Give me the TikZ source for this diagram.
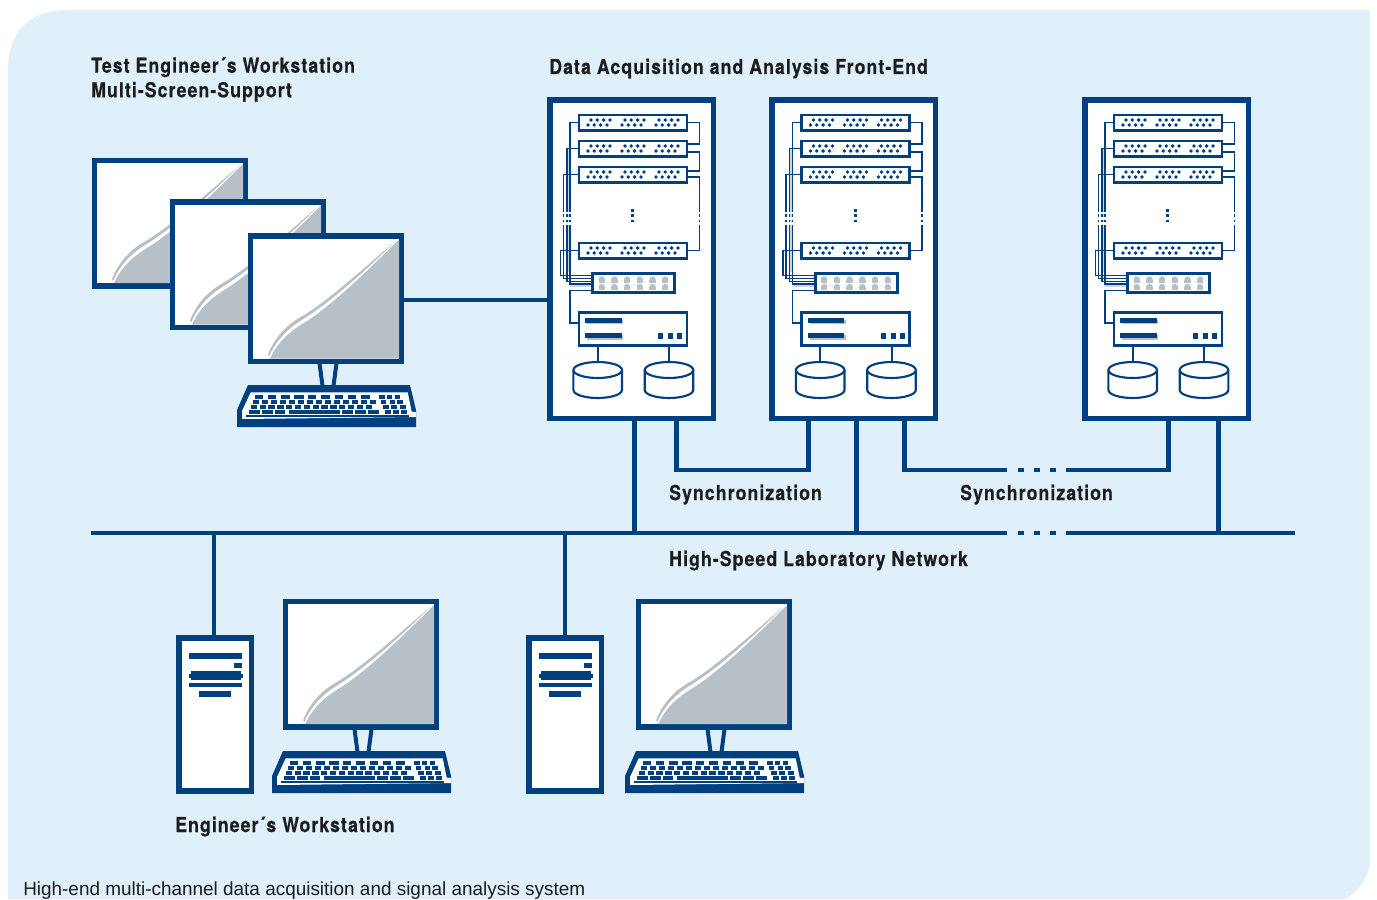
\documentclass[tikz,border=0pt]{standalone}
\usepackage{fontspec}
\usetikzlibrary{calc}
\setmainfont{Liberation Sans}
\newfontfamily\labelfont[FakeStretch=0.86,LetterSpace=5.3,FakeBold=0.4]{TeX Gyre Heros Bold}
\definecolor{bgblue}{HTML}{DFF0FB}
\definecolor{navy}{HTML}{00407F}
\definecolor{screengrey}{HTML}{B7C0C6}
\definecolor{txt}{HTML}{1C1C1C}
\tikzset{
  x=0.75pt,y=-0.75pt,
  link/.style={draw=navy,line width=3.4pt},
  thin cable/.style={draw=navy,line width=1.05pt},
  frame/.style={draw=navy,fill=white,line width=4pt,rectangle,inner sep=0pt,outer sep=0pt},
  rackbox/.style={frame,minimum width=163.5*0.75pt,minimum height=318.5*0.75pt},
  screenbox/.style={frame,minimum width=151*0.75pt,minimum height=125.5*0.75pt},
  towerbox/.style={frame,minimum width=72.5*0.75pt,minimum height=153*0.75pt},
  cardbox/.style={draw=navy,fill=white,line width=2pt,rectangle,inner sep=0pt,outer sep=0pt,minimum width=108*0.75pt,minimum height=15.5*0.75pt},
  switchbox/.style={draw=navy,fill=white,line width=2pt,rectangle,inner sep=0pt,outer sep=0pt,minimum width=82*0.75pt,minimum height=19*0.75pt},
  hostbox/.style={draw=navy,fill=white,line width=1.8pt,rectangle,inner sep=0pt,outer sep=0pt,minimum width=108*0.75pt,minimum height=33*0.75pt},
  disc/.style={draw=navy,fill=white,line width=1.6pt},
  lbl/.style={text=txt,font=\labelfont\fontsize{15.4}{18.4}\selectfont,inner sep=0pt,anchor=base west},
}
% keyboard: origin at its top left corner
\newcommand{\kbdraw}[2]{%
\begin{scope}[shift={(#1,#2)}]
  \fill[navy] (11,0) -- (173,0) -- (179,25) -- (179,42) -- (0,42) -- (0,25) -- cycle;
  \fill[white] (13.7,7.3) -- (170.7,7.3) -- (174.7,26.7) -- (179,27) -- (179,32) -- (5,34) -- (5,26) -- cycle;
  \foreach \a/\b in {75/100,115/140,155/180,193/223,235/260,275/300,315/340,355/380,395/420,447/465,472/488,495/512}
    \fill[navy] ({(\a-22)/3},10.3) rectangle ({(\b-22)/3},13.5);
  \foreach \i in {0,...,13}
    \fill[navy] ({(70+27*\i-22)/3},15) rectangle ({(88+27*\i-22)/3},19.3);
  \foreach \a/\b in {455/470,480/495,503/520}
    \fill[navy] ({(\a-22)/3},15) rectangle ({(\b-22)/3},19.3);
  \foreach \i in {0,...,13}
    \fill[navy] ({(63+26.5*\i-22)/3},20) rectangle ({(82+26.5*\i-22)/3},24.2);
  \foreach \a/\b in {460/478,485/503,510/528}
    \fill[navy] ({(\a-22)/3},20) rectangle ({(\b-22)/3},24.2);
  \foreach \a/\b in {58/90,97/130,135/167,177/330,337/370,375/408,415/447,467/485,490/508,515/533}
    \fill[navy] ({(\a-22)/3},25) rectangle ({(\b-22)/3},29.2);
  \fill[navy] ({(50-22)/3},30) rectangle ({(537-22)/3},32);
\end{scope}}
% screen image inside monitor whose top left outer corner is given
\newcommand{\scrimg}[2]{%
\begin{scope}[shift={(#1,#2)}]
  \fill[screengrey] (22,125) .. controls (30,108) and (42,98) .. (55,90) .. controls (80,75) and (115,42) .. (151,6) -- (151,125) -- cycle;
  \fill[screengrey] (20,121) .. controls (26,105) and (38,92) .. (52,84) .. controls (78,69) and (112,38) .. (147,8) .. controls (114,41) and (78,72) .. (53,87) .. controls (40,95) and (28,107) .. (21,123) -- cycle;
\end{scope}}
\newcommand{\stand}[2]{%
\begin{scope}[shift={(#1,#2)}]
  \draw[navy,line width=3pt] (71.5,130) -- (74.5,153);
  \draw[navy,line width=3pt] (88.5,130) -- (85.5,153);
\end{scope}}
% tower face
\newcommand{\towerface}[2]{%
\begin{scope}[shift={(#1,#2)}]
  \fill[navy] (12,18) rectangle (64.5,24);
  \fill[navy] (56.5,28) rectangle (64.5,33);
  \fill[navy] (14,36) rectangle (63.5,45);
  \fill[navy] (12,38.5) rectangle (65.5,42.5);
  \fill[navy] (12,48) rectangle (64.5,52);
  \fill[navy] (22,56) rectangle (54,62);
\end{scope}}
% rack contents, drawn in rack-1 pixel coordinates and shifted
\newcommand{\rackinner}[2]{%
\begin{scope}[shift={(#1,0)}]
  \fill[screengrey!70] (567,149) rectangle (570,272);
  \fill[screengrey!70] (570,285) rectangle (591,287);
  \draw[thin cable] (578,122.5) -- (570,122.5) -- (570,284) -- (591,284);
  \draw[thin cable] (578,148.5) -- (567,148.5) -- (567,281.5) -- (591,281.5);
  \draw[thin cable] (578,174.5) -- (563.5,174.5) -- (563.5,278.5) -- (591,278.5);
  \draw[thin cable] (578,250.5) -- (560.5,250.5) -- (560.5,275.5) -- (591,275.5);
  \draw[thin cable] (688,122.5) -- (699.5,122.5) -- (699.5,144) -- (688,144);
  \draw[thin cable] (688,152) -- (699.5,152) -- (699.5,171) -- (688,171);
  \draw[thin cable] (688,177) -- (699.5,177) -- (699.5,250.5) -- (688,250.5);
  \draw[thin cable] (591,290.5) -- (570,290.5) -- (570,323) -- (578,323);
  \foreach \a/\b in {211.7/214,217/219.5,222/225}{
    \fill[white] (559,\a) rectangle (572,\b);
    \fill[white] (697,\a) rectangle (702,\b);
  }
  \foreach \a/\b in {208.5/211.7,214/217,219.5/222}
    \fill[navy] (631.4,\a) rectangle (634,\b);
  \foreach \y/\n in {114/a,140/b,166/c,242/d}{
    \node[cardbox,anchor=north west] (card#2\n) at (579,\y+1) {};
    \foreach \g in {0,1,2}\foreach \k in {0,1,2,3}{
      \fill[navy] ({591+34*\g+6.3*\k},\y+6) circle[radius=1.9];
      \fill[navy] ({588+34*\g+6.3*\k},\y+11) circle[radius=1.9];
    }
  }
  \node[switchbox,anchor=north west] (switch#2) at (592.7,273.7) {};
  \foreach \k in {0,...,5}{
    \foreach \yy in {279.5,287}{
      \fill[screengrey] ({601.7+12.7*\k},\yy) circle[radius=3.2];
      \fill[screengrey] ({598.5+12.7*\k},\yy) rectangle ({604.9+12.7*\k},\yy+3);
    }
  }
  \node[hostbox,anchor=north west] (host#2) at (579,312.5) {};
  \fill[screengrey] (587,319.5) rectangle (623,324);
  \fill[screengrey] (587,335) rectangle (623,340);
  \fill[navy] (585,317.5) rectangle (621.5,322.5);
  \fill[navy] (585,333) rectangle (621.5,338);
  \fill[navy] (658.3,333) rectangle (663.3,339);
  \fill[navy] (668,333) rectangle (673,339);
  \fill[navy] (677,333) rectangle (682,339);
  \foreach \c/\n in {597.7/a,669/b}{
    \draw[navy,line width=1.5pt] (\c,346) -- (\c,362);
    \draw[disc] (\c-24.3,370) -- (\c-24.3,390) arc[start angle=180,end angle=360,x radius=24.3,y radius=-8] -- (\c+24.3,370);
    \draw[disc] (\c,370) ellipse[x radius=24.3,y radius=8];
  }
\end{scope}}
\begin{document}
\begin{tikzpicture}
\useasboundingbox (0,0) rectangle (1377,899);
\fill[white] (0,0) rectangle (1377,899);
\fill[bgblue] (8,899) -- (8,72) .. controls (8,32) and (28,10) .. (68,10) -- (1370,10) -- (1370,858) .. controls (1370,878) and (1358,892) .. (1345,899) -- cycle;

% bus and connector end points
\coordinate (busL) at (91,533);
\coordinate (busGapA) at (1007,533);
\coordinate (busGapB) at (1066,533);
\coordinate (busR) at (1295,533);
\coordinate (tapA) at (634.5,533);
\coordinate (tapB) at (856.5,533);
\coordinate (tapC) at (1218.5,533);
\coordinate (tapD) at (214,533);
\coordinate (tapE) at (565,533);
\coordinate (syncA1) at (676.5,470);
\coordinate (syncA2) at (808.5,470);
\coordinate (syncB1) at (904.5,470);
\coordinate (syncGapA) at (1007,470);
\coordinate (syncGapB) at (1066,470);
\coordinate (syncB2) at (1168.5,470);

% racks
\node[rackbox,anchor=north west] (rackA) at (550,100) {};
\node[rackbox,anchor=north west] (rackB) at (772,100) {};
\node[rackbox,anchor=north west] (rackC) at (1085,100) {};
\rackinner{0}{A}
\rackinner{222.5}{B}
\rackinner{535}{C}

% monitors
\node[screenbox,anchor=north west] (monA) at (94.5,160.5) {};
\scrimg{92}{158}
\node[screenbox,anchor=north west] (monB) at (172.5,202) {};
\scrimg{170}{199.5}
\node[screenbox,anchor=north west] (monC) at (250.5,236) {};
\scrimg{248}{233.5}
\stand{248}{233}
\kbdraw{237}{385}
\node[screenbox,anchor=north west] (monD) at (285.7,601.5) {};
\scrimg{283.2}{599}
\stand{283}{599}
\kbdraw{272}{751}
\node[screenbox,anchor=north west] (monE) at (638.7,601.5) {};
\scrimg{636.2}{599}
\stand{636}{599}
\kbdraw{625}{751}

% towers
\node[towerbox,anchor=north west] (towerA) at (179,638) {};
\towerface{177}{635}
\node[towerbox,anchor=north west] (towerB) at (529,638) {};
\towerface{527}{635}

% connectors
\draw[link] (monC.east |- 0,300) -- (rackA.west |- 0,300);
\draw[link] (busL) -- (busGapA);
\draw[link] (busGapB) -- (busR);
\draw[link,dash pattern=on 4.5pt off 7.5pt] ($(busGapA)+(11,0)$) -- ($(busGapB)+(-6,0)$);
\draw[link] (rackA.south -| tapA) -- (tapA);
\draw[link] (rackB.south -| tapB) -- (tapB);
\draw[link] (rackC.south -| tapC) -- (tapC);
\draw[link] (tapD) -- (towerA.north -| tapD);
\draw[link] (tapE) -- (towerB.north -| tapE);
\draw[link,line join=miter] (rackA.south -| syncA1) -- (syncA1) -- (syncA2) -- (rackB.south -| syncA2);
\draw[link,line join=miter] (rackB.south -| syncB1) -- (syncB1) -- (syncGapA);
\draw[link,line join=miter] (syncGapB) -- (syncB2) -- (rackC.south -| syncB2);
\draw[link,dash pattern=on 4.5pt off 7.5pt] ($(syncGapA)+(11,0)$) -- ($(syncGapB)+(-6,0)$);

% labels
\node[lbl,anchor=north west,align=left] (lblTest) at (91,57) {Test Engineer´s Workstation\\Multi-Screen-Support};
\node[lbl] (lblData) at (549,74) {Data Acquisition and Analysis Front-End};
\node[lbl] (lblSyncA) at (669,500) {Synchronization};
\node[lbl] (lblSyncB) at (960,500) {Synchronization};
\node[lbl] (lblNet) at (669,566) {High-Speed Laboratory Network};
\node[lbl] (lblEng) at (175,832) {Engineer´s Workstation};
\node[text=txt,font=\fontsize{14.2}{16}\selectfont,inner sep=0pt,anchor=base west] (cap) at (23,895) {High-end multi-channel data acquisition and signal analysis system};
\end{tikzpicture}
\end{document}
